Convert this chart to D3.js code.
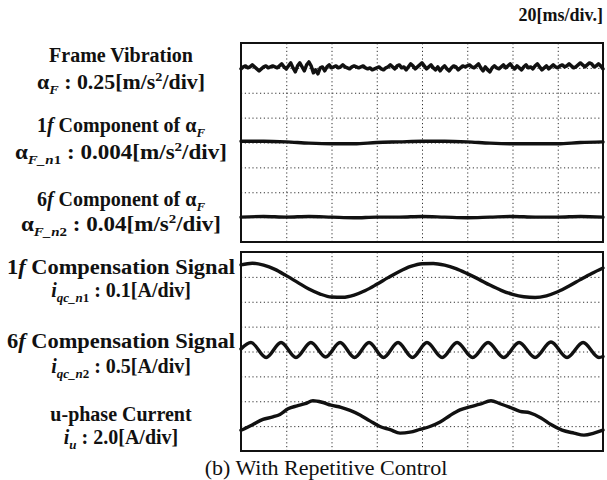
<!DOCTYPE html>
<meta charset="utf-8">
<html>
<head>
<script src="https://d3js.org/d3.v7.min.js"></script>
<style>
  body { margin: 0; background: #fff; }
  text { font-family: "Liberation Serif", "Times New Roman", serif; fill: #111; }
  .label { font-size: 20px; font-weight: bold; }
  .caption { font-size: 22px; }
  .grid line { stroke: #333; stroke-width: 1; stroke-dasharray: 1.2,2.6; }
  .grid path { display: none; }
  .frame { fill: none; stroke: #111; stroke-width: 2; }
  .trace { fill: none; stroke: #111; stroke-width: 3.4; stroke-linejoin: round; stroke-linecap: round; }
</style>
</head>
<body>
<script>
// time base 20 ms/div, 8 divisions across, 8 divisions down
var timeTicks = [0, 20, 40, 60, 80, 100, 120, 140, 160];
var divTicks = [0, 1, 2, 3, 4, 5, 6, 7, 8];

// frame vibration aF [m/s^2], one sample per ms
var vibValues = [
  -0.01, 0.01, 0.02, 0.00, 0.01, 0.03, 0.01, -0.01, -0.03, -0.01,
  0.01, 0.02, 0.00, 0.01, 0.02, 0.01, 0.00, 0.02, 0.04, 0.01,
  -0.01, 0.02, 0.05, 0.00, -0.04, 0.02, 0.05, 0.01, -0.03, 0.03,
  0.06, 0.02, -0.05, -0.02, -0.06, 0.00, 0.01, -0.03, 0.01, 0.03,
  0.00, 0.01, 0.02, 0.00, 0.01, 0.03, 0.01, 0.00, -0.01, 0.01,
  0.02, 0.01, 0.00, 0.01, 0.02, 0.00, -0.01, 0.00, -0.02, -0.01,
  0.00, 0.01, -0.01, -0.02, 0.00, 0.01, 0.03, 0.01, -0.01, 0.02,
  0.03, 0.00, 0.01, -0.02, 0.01, 0.04, 0.02, -0.01, 0.01, 0.03,
  0.05, 0.02, -0.01, 0.01, 0.03, 0.00, -0.02, 0.01, -0.03, 0.00,
  0.02, -0.01, -0.03, 0.00, 0.02, 0.01, -0.02, 0.00, 0.02, 0.01,
  0.02, 0.03, 0.01, 0.00, 0.02, 0.04, 0.00, -0.03, 0.01, -0.02,
  -0.04, 0.00, 0.02, 0.00, -0.01, 0.01, 0.03, 0.00, 0.02, 0.04,
  0.01, -0.01, 0.02, 0.00, -0.02, 0.01, 0.03, 0.00, 0.01, -0.01,
  0.02, 0.04, 0.01, -0.02, 0.00, 0.02, -0.01, 0.01, 0.03, 0.01,
  0.00, 0.02, 0.03, 0.01, 0.02, 0.04, 0.02, 0.00, 0.01, 0.03,
  0.05, 0.03, 0.01, 0.03, 0.05, 0.04, 0.01, 0.02, 0.04, 0.02, -0.01
];
var vibTimes = d3.range(0, 161, 1);

// 1f component of aF [m/s^2]
var n1Times = [0, 10, 20, 30, 40, 50, 60, 70, 80, 90, 100, 110, 120, 130, 140, 150, 160];
var n1Values = [0.0002, 0.0002, 0.0001, -0.0001, -0.0002, -0.0002, 0.0000, 0.0001, 0.0002,
                0.0002, 0.0001, -0.0001, -0.0002, -0.0002, -0.0002, 0.0000, 0.0001];

// 6f component of aF [m/s^2]
var n2Times = [0, 10, 20, 30, 40, 50, 60, 70, 80, 90, 100, 110, 120, 130, 140, 150, 160];
var n2Values = [0.000, 0.001, 0.000, 0.001, 0.000, -0.001, 0.000, 0.000, 0.001,
                0.000, -0.001, 0.000, 0.001, 0.000, 0.000, 0.001, 0.000];

// 1f compensation signal iqc_n1 [A]
var qc1Times = d3.range(0, 161, 5);
var qc1Values = [0.062, 0.069, 0.061, 0.044, 0.019, -0.008, -0.035, -0.055, -0.067,
                 -0.068, -0.059, -0.041, -0.016, 0.011, 0.036, 0.056, 0.067,
                 0.068, 0.061, 0.047, 0.027, 0.005, -0.019, -0.040, -0.056,
                 -0.066, -0.069, -0.062, -0.046, -0.023, 0.003, 0.028, 0.050];

// 6f compensation signal iqc_n2 [A]
var qc2Times = [0, 4.4, 11.1, 17.7, 24.3, 30.9, 37.4, 43.8, 50.2, 56.6, 63.0, 69.4, 75.8,
                82.2, 88.9, 95.5, 102.4, 109.2, 116.1, 122.9, 130.0, 137.0, 144.1, 151.2, 158.2, 160];
var qc2Values = [0.02, 0.15, -0.15, 0.15, -0.15, 0.15, -0.14, 0.15, -0.15, 0.15, -0.15, 0.15, -0.15,
                 0.15, -0.15, 0.15, -0.15, 0.15, -0.15, 0.15, -0.15, 0.16, -0.15, 0.15, -0.15, -0.13];

// u-phase current iu [A]
var iuTimes = [0, 4.9, 9.7, 14.1, 17.2, 20.8, 24.8, 28.3, 31.8, 35.8, 39.8, 44.2, 48.2, 52.6,
               57.0, 61.4, 65.9, 70.3, 74.7, 79.1, 83.5, 88.0, 92.4, 96.8, 101.2, 105.6, 110.5,
               114.5, 118.9, 123.3, 127.7, 132.6, 137.0, 141.9, 147.2, 151.6, 156.0, 160];
var iuValues = [-1.04, -0.61, -0.16, 0.04, 0.24, 0.69, 0.93, 1.10, 1.34, 1.22, 0.98, 0.81, 0.57, 0.20,
                -0.28, -0.73, -0.98, -1.26, -1.18, -0.96, -0.73, -0.37, 0.16, 0.61, 0.85, 1.06, 1.34,
                1.10, 0.81, 0.49, 0.37, -0.04, -0.57, -1.02, -1.26, -1.42, -1.26, -1.02];

var W = 607, H = 480;
var svg = d3.select("body").append("svg").attr("width", W).attr("height", H);

var x = d3.scaleLinear().domain([0, 160]).range([241, 603]);
var panels = [{ top: 43, bottom: 242 }, { top: 252, bottom: 451 }];

// channels: panel, ground position (div from top), value per div
var channels = [
  { panel: 0, pos: 1.0, perDiv: 0.25, t: vibTimes, v: vibValues, curve: d3.curveLinear },
  { panel: 0, pos: 4.0, perDiv: 0.004, t: n1Times, v: n1Values, curve: d3.curveMonotoneX },
  { panel: 0, pos: 7.0, perDiv: 0.04, t: n2Times, v: n2Values, curve: d3.curveMonotoneX },
  { panel: 1, pos: 1.14, perDiv: 0.1, t: qc1Times, v: qc1Values, curve: d3.curveMonotoneX },
  { panel: 1, pos: 3.94, perDiv: 0.5, t: qc2Times, v: qc2Values, curve: d3.curveMonotoneX },
  { panel: 1, pos: 6.65, perDiv: 2.0, t: iuTimes, v: iuValues, curve: d3.curveMonotoneX }
];

panels.forEach(function (p) {
  var yDiv = d3.scaleLinear().domain([0, 8]).range([p.top, p.bottom]);
  var h = p.bottom - p.top;
  // dotted grid drawn with the axes
  svg.append("g").attr("class", "grid")
    .attr("transform", "translate(0," + p.bottom + ")")
    .call(d3.axisBottom(x).tickValues(timeTicks.slice(1, -1)).tickSize(h).tickSizeOuter(0).tickFormat(""))
    .selectAll("line").attr("y2", -h);
  svg.append("g").attr("class", "grid")
    .attr("transform", "translate(241,0)")
    .call(d3.axisRight(yDiv).tickValues(divTicks.slice(1, -1)).tickSize(x(160) - x(0)).tickSizeOuter(0).tickFormat(""));
  svg.append("rect").attr("class", "frame")
    .attr("x", x(0)).attr("y", p.top).attr("width", x(160) - x(0)).attr("height", h);
});

channels.forEach(function (c) {
  var p = panels[c.panel];
  var y = d3.scaleLinear().domain([c.pos * c.perDiv, (c.pos - 8) * c.perDiv]).range([p.top, p.bottom]);
  var line = d3.line().x(function (d, i) { return x(c.t[i]); }).y(function (d) { return y(d); }).curve(c.curve);
  svg.append("path").attr("class", "trace").attr("d", line(c.v));
});

// labels made of pieces: it = italic, sub/sup = shifted small; w = stretched width
function label(y, parts, w) {
  var t = svg.append("text").attr("class", "label").attr("x", 121).attr("y", y).attr("text-anchor", "middle");
  if (w) t.attr("textLength", w).attr("lengthAdjust", "spacingAndGlyphs");
  var shift = 0;
  parts.forEach(function (p) {
    if (typeof p === "string") p = { t: p };
    var s = t.append("tspan").text(p.t);
    var target = p.sub ? 5 : p.sup ? -8 : 0;
    if (target !== shift) { s.attr("dy", target - shift); shift = target; }
    if (p.sub || p.sup) s.style("font-size", "13px");
    if (p.it) s.style("font-style", "italic");
  });
}

label(62, ["Frame Vibration"]);
label(89, ["α", { t: "F", sub: 1, it: 1 }, " : 0.25[m/s", { t: "2", sup: 1 }, "/div]"], 168);
label(132, ["1", { t: "f", it: 1 }, " Component of α", { t: "F", sub: 1, it: 1 }]);
label(159, ["α", { t: "F_n", sub: 1, it: 1 }, { t: "1", sub: 1 }, " : 0.004[m/s", { t: "2", sup: 1 }, "/div]"], 212);
label(206, ["6", { t: "f", it: 1 }, " Component of α", { t: "F", sub: 1, it: 1 }]);
label(231, ["α", { t: "F_n", sub: 1, it: 1 }, { t: "2", sub: 1 }, " : 0.04[m/s", { t: "2", sup: 1 }, "/div]"], 200);
label(274, ["1", { t: "f", it: 1 }, " Compensation Signal"], 228);
label(297, [{ t: "i", it: 1 }, { t: "qc_n", sub: 1, it: 1 }, { t: "1", sub: 1 }, " : 0.1[A/div]"]);
label(348, ["6", { t: "f", it: 1 }, " Compensation Signal"], 228);
label(373, [{ t: "i", it: 1 }, { t: "qc_n", sub: 1, it: 1 }, { t: "2", sub: 1 }, " : 0.5[A/div]"]);
label(421, ["u-phase Current"]);
label(444, [{ t: "i", it: 1 }, { t: "u", sub: 1, it: 1 }, " : 2.0[A/div]"]);

svg.append("text").attr("class", "label").style("font-size", "18px")
  .attr("x", 603).attr("y", 21).attr("text-anchor", "end").text("20[ms/div.]");

svg.append("text").attr("class", "caption")
  .attr("x", 326).attr("y", 475).attr("text-anchor", "middle").text("(b) With Repetitive Control");
</script>
</body>
</html>
